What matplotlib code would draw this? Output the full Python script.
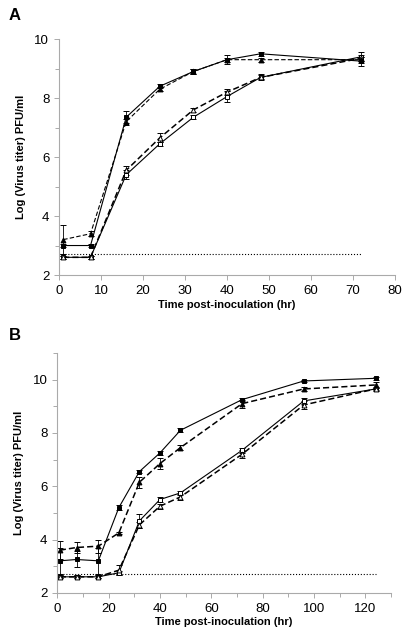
import matplotlib.pyplot as plt
import numpy as np

plt.rcParams['font.family'] = ['Liberation Sans', 'DejaVu Sans']

# panel A data
tA = [1, 7.5, 16, 24, 32, 40, 48, 72]
a_fsq = [3.0, 3.0, 7.35, 8.4, 8.9, 9.3, 9.5, 9.25]
a_fsq_err = [0.05, 0.05, 0.2, 0.07, 0.07, 0.15, 0.07, 0.15]
a_ftr = [3.2, 3.4, 7.2, 8.3, 8.9, 9.3, 9.3, 9.3]
a_ftr_err = [0.5, 0.08, 0.1, 0.07, 0.07, 0.07, 0.07, 0.1]
a_osq = [2.6, 2.6, 5.4, 6.45, 7.35, 8.05, 8.7, 9.4]
a_osq_err = [0.05, 0.05, 0.15, 0.07, 0.07, 0.2, 0.1, 0.15]
a_otr = [2.6, 2.6, 5.55, 6.65, 7.6, 8.2, 8.7, 9.35]
a_otr_err = [0.05, 0.05, 0.15, 0.15, 0.07, 0.1, 0.07, 0.1]

# panel B data
tB = [1, 7.5, 16, 24, 32, 40, 48, 72, 96, 124]
b_fsq = [3.2, 3.25, 3.2, 5.2, 6.55, 7.25, 8.1, 9.25, 9.95, 10.05]
b_fsq_err = [0.5, 0.3, 0.5, 0.08, 0.05, 0.07, 0.08, 0.07, 0.05, 0.05]
b_ftr = [3.6, 3.7, 3.75, 4.25, 6.15, 6.85, 7.45, 9.1, 9.65, 9.8]
b_ftr_err = [0.35, 0.2, 0.25, 0.05, 0.2, 0.2, 0.08, 0.15, 0.07, 0.12]
b_osq = [2.6, 2.6, 2.6, 2.75, 4.7, 5.5, 5.75, 7.35, 9.2, 9.65]
b_osq_err = [0.05, 0.05, 0.05, 0.08, 0.25, 0.08, 0.07, 0.1, 0.1, 0.05]
b_otr = [2.6, 2.6, 2.6, 2.85, 4.55, 5.25, 5.6, 7.2, 9.05, 9.65]
b_otr_err = [0.05, 0.05, 0.05, 0.2, 0.1, 0.1, 0.1, 0.15, 0.15, 0.07]

limit = 2.7

fig = plt.figure(figsize=(4.09, 6.39), dpi=100)
axA = fig.add_axes([0.1443, 0.5696, 0.8215, 0.3693])
axB = fig.add_axes([0.140, 0.0723, 0.816, 0.3753])

def series(ax, t, y, e, marker, ls, lw, filled):
    ax.errorbar(t, y, yerr=e, color='black', ls=ls, lw=lw, marker=marker,
                ms=3.5, mfc='black' if filled else 'white', mec='black', mew=0.7,
                ecolor='black', elinewidth=0.6, capsize=2.5, capthick=0.6)

def style(ax, xmax, ymax, xmaj, xmin_step):
    ax.set_xlim(0, xmax)
    ax.set_ylim(2, ymax)
    ax.set_xticks(np.arange(0, xmax + 1, xmaj))
    ax.set_xticks(np.arange(0, xmax + 1, xmin_step), minor=True)
    ax.set_yticks([2, 4, 6, 8, 10])
    ax.set_yticks(np.arange(2, ymax + 0.5, 1), minor=True)
    for s in ['top', 'right']:
        ax.spines[s].set_visible(False)
    for s in ['left', 'bottom']:
        ax.spines[s].set_color('#aaaaaa')
        ax.spines[s].set_linewidth(0.8)
    ax.tick_params(which='both', direction='out', color='#aaaaaa', width=0.7,
                   labelsize=9.5)
    ax.tick_params(which='major', length=3.5)
    ax.tick_params(which='minor', length=3)
    ax.set_xlabel('Time post-inoculation (hr)', fontsize=8, fontweight='bold', labelpad=2)
    ax.set_ylabel('Log (Virus titer) PFU/ml', fontsize=8, fontweight='bold', labelpad=6)

# panel A
axA.plot([0, 72], [limit, limit], ls=':', color='black', lw=0.8)
series(axA, tA, a_osq, a_osq_err, 's', '-', 0.8, False)
series(axA, tA, a_otr, a_otr_err, '^', (0, (4, 2)), 1.1, False)
series(axA, tA, a_fsq, a_fsq_err, 's', '-', 0.8, True)
series(axA, tA, a_ftr, a_ftr_err, '^', (0, (4, 2)), 0.8, True)
style(axA, 80, 10, 10, 10)

# panel B
axB.plot([0, 124], [limit, limit], ls=':', color='black', lw=0.8)
series(axB, tB, b_osq, b_osq_err, 's', '-', 0.8, False)
series(axB, tB, b_otr, b_otr_err, '^', (0, (4, 2)), 1.1, False)
series(axB, tB, b_fsq, b_fsq_err, 's', '-', 0.8, True)
series(axB, tB, b_ftr, b_ftr_err, '^', (0, (4, 2)), 1.1, True)
style(axB, 130, 11, 20, 10)

fig.text(0.022, 0.968, 'A', fontsize=12, fontweight='bold')
fig.text(0.022, 0.468, 'B', fontsize=12, fontweight='bold')

fig.savefig('out.png', dpi=100)
